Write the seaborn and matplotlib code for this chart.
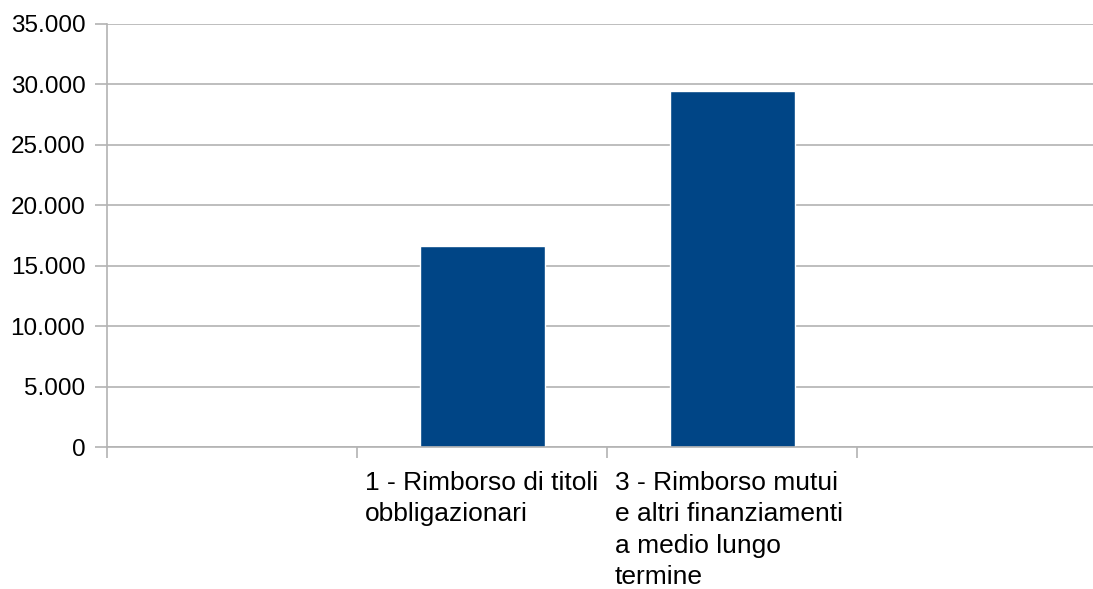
import matplotlib
matplotlib.use("Agg")
import matplotlib.pyplot as plt
from matplotlib.ticker import FuncFormatter
import seaborn as sns

# ── Data ──────────────────────────────────────────────
categories = [
    "1 - Rimborso di titoli\nobbligazionari",
    "3 - Rimborso mutui\ne altri finanziamenti\na medio lungo\ntermine",
]
values = [16650, 29450]

# empty slots on both sides of the two bars
slots = ["_vuoto_a", categories[0], categories[1], "_vuoto_b"]
slot_labels = ["", categories[0], categories[1], ""]

yticks = [0, 5000, 10000, 15000, 20000, 25000, 30000, 35000]

# ── Style ─────────────────────────────────────────────
sns.set_theme(style="white")
plt.rcParams["font.family"] = ["Liberation Sans", "DejaVu Sans"]
grey = "#b3b3b3"
blue = "#004586"

fig = plt.figure(figsize=(10.93, 5.89), dpi=100)
ax = fig.add_axes([107 / 1093, 1 - 447 / 589, 1 - 107 / 1093, (447 - 24) / 589])

sns.barplot(x=categories, y=values, order=slots, color=blue,
            saturation=1, width=0.5, ax=ax)

ax.set_yticks(yticks)
ax.yaxis.set_major_formatter(FuncFormatter(lambda v, p: f"{int(v):,}".replace(",", ".")))
ax.grid(axis="y", color=grey, linewidth=1.2)
ax.set_axisbelow(True)

# tick marks on slot boundaries (minor), labels just right of them (major)
bounds = [i - 0.5 for i in range(len(slots))]
ax.set_xticks(bounds, minor=True)
ax.set_xticks([b + 8 / 250 for b in bounds])
ax.set_xticklabels(slot_labels, ha="left", va="top", linespacing=1.4)

ax.tick_params(axis="x", which="minor", length=8, width=1.2, color=grey, bottom=True)
ax.tick_params(axis="x", which="major", length=0, pad=17,
               labelsize=19, labelcolor="black")
ax.tick_params(axis="y", length=8.6, width=1.2, color=grey, pad=7,
               labelsize=17.5, labelcolor="black", left=True)
ax.set_xlabel("")
ax.set_ylabel("")

# limits last so the tick calls do not widen them
ax.set_ylim(0, 35000)
ax.set_xlim(-0.5, (1093 - 107) / 250 - 0.5)

for side in ["top", "right"]:
    ax.spines[side].set_visible(False)
for side in ["left", "bottom"]:
    ax.spines[side].set_color(grey)
    ax.spines[side].set_linewidth(1.2)

fig.savefig("out.png", dpi=100)
